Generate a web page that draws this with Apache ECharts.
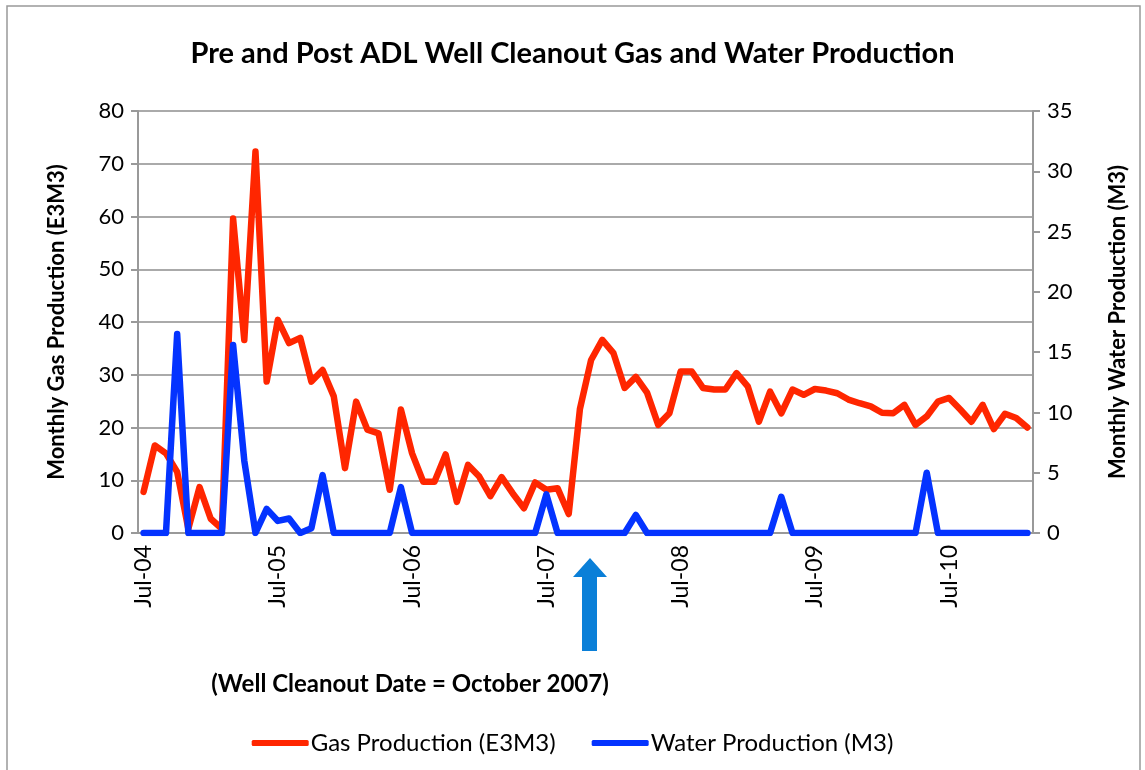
<!DOCTYPE html>
<html>
<head>
<meta charset="utf-8">
<script src="https://cdn.jsdelivr.net/npm/echarts@6/dist/echarts.min.js"></script>
<style>
  html, body { margin: 0; padding: 0; background: #fff; }
  #main { width: 1145px; height: 770px; }
</style>
</head>
<body>
<div id="main"></div>
<script>
// monthly categories, Jul-04 .. Feb-11
var monthNames = ['Jan','Feb','Mar','Apr','May','Jun','Jul','Aug','Sep','Oct','Nov','Dec'];
var months = [];
for (var k = 0; k < 80; k++) {
    var m = (6 + k) % 12, y = 4 + Math.floor((6 + k) / 12);
    months.push(monthNames[m] + '-' + (y < 10 ? '0' + y : '' + y));
}

// Gas Production (E3M3), left axis
var gas = [7.8,16.6,15.1,11.6,0.8,8.7,2.7,0.8,59.6,36.6,
           72.3,28.7,40.4,36.0,37.0,28.7,30.9,25.9,12.3,24.9,
           19.6,18.9,8.2,23.4,15.1,9.7,9.7,14.9,5.9,12.9,
           10.7,7.0,10.6,7.5,4.7,9.6,8.2,8.5,3.6,23.5,
           32.8,36.6,34.1,27.5,29.6,26.6,20.5,22.7,30.6,30.6,
           27.5,27.2,27.2,30.3,27.8,21.1,26.8,22.7,27.2,26.2,
           27.3,27.0,26.5,25.3,24.6,24.0,22.8,22.7,24.3,20.5,
           22.1,24.9,25.6,23.4,21.1,24.3,19.7,22.6,21.8,20.0];

// Water Production (M3), right axis
var water = [0,0,0,16.5,0,0,0,0,15.6,6.0,
             0,2.0,1.0,1.2,0,0.4,4.8,0,0,0,
             0,0,0,3.8,0,0,0,0,0,0,
             0,0,0,0,0,0,3.2,0,0,0,
             0,0,0,0,1.5,0,0,0,0,0,
             0,0,0,0,0,0,0,3.0,0,0,
             0,0,0,0,0,0,0,0,0,0,
             5.0,0,0,0,0,0,0,0,0,0];

var font = 'Lato, "Open Sans", sans-serif';

var myChart = echarts.init(document.getElementById('main'));
var option = {
    animation: false,
    backgroundColor: '#fff',
    title: {
        text: 'Pre and Post ADL Well Cleanout Gas and Water Production',
        left: 'center',
        top: 34,
        textStyle: { fontFamily: font, fontSize: 29, fontWeight: 'bold', color: '#000' }
    },
    legend: {
        bottom: 10,
        left: 'center',
        itemWidth: 57,
        itemHeight: 6,
        itemGap: 36,
        icon: 'roundRect',
        textStyle: { fontFamily: font, fontSize: 24, color: '#000', padding: [0, 0, 0, -3] },
        data: ['Gas Production (E3M3)', 'Water Production (M3)']
    },
    grid: {
        left: 138,
        right: 112,
        top: 111,
        bottom: 237,
        show: true,
        borderColor: '#222',
        borderWidth: 1
    },
    xAxis: {
        type: 'category',
        data: months,
        boundaryGap: true,
        axisLine: { lineStyle: { color: '#999', width: 2 } },
        axisTick: { interval: 11, length: 6, lineStyle: { color: '#999', width: 3 } },
        axisLabel: {
            interval: 11,
            rotate: 90,
            margin: 12,
            fontFamily: font,
            fontSize: 23,
            color: '#000'
        }
    },
    yAxis: [
        {
            type: 'value',
            min: 0, max: 80, interval: 10,
            name: 'Monthly Gas Production (E3M3)',
            nameLocation: 'middle',
            nameRotate: 90,
            nameGap: 70,
            nameTextStyle: { fontFamily: font, fontSize: 22, fontWeight: 'bold', color: '#000' },
            axisLine: { show: true, lineStyle: { color: '#999', width: 2 } },
            axisTick: { show: true, length: 7, lineStyle: { color: '#999', width: 2 } },
            axisLabel: { fontFamily: font, fontSize: 22, color: '#000', margin: 14 },
            splitLine: { lineStyle: { color: '#aaa', width: 2 } }
        },
        {
            type: 'value',
            min: 0, max: 35, interval: 5,
            name: 'Monthly Water Production (M3)',
            nameLocation: 'middle',
            nameRotate: 90,
            nameGap: 74,
            nameTextStyle: { fontFamily: font, fontSize: 22, fontWeight: 'bold', color: '#000' },
            axisLine: { show: true, lineStyle: { color: '#999', width: 2 } },
            axisTick: { show: true, length: 7, lineStyle: { color: '#999', width: 2 } },
            axisLabel: { fontFamily: font, fontSize: 22, color: '#000', margin: 14 },
            splitLine: { show: false }
        }
    ],
    series: [
        {
            name: 'Gas Production (E3M3)',
            type: 'line',
            yAxisIndex: 0,
            data: gas,
            showSymbol: false,
            symbol: 'none',
            color: '#ff2600',
            lineStyle: { color: '#ff2600', width: 6.5, join: 'round', cap: 'round' },
            z: 2
        },
        {
            name: 'Water Production (M3)',
            type: 'line',
            yAxisIndex: 1,
            data: water,
            showSymbol: false,
            symbol: 'none',
            color: '#0433ff',
            lineStyle: { color: '#0433ff', width: 6.5, join: 'round', cap: 'round' },
            z: 3
        }
    ],
    graphic: [
        {
            type: 'rect',
            shape: { x: 7, y: 6, width: 1133, height: 780 },
            style: { fill: 'none', stroke: '#999', lineWidth: 1.5 },
            silent: true
        },
        {
            type: 'polygon',
            shape: { points: [[590, 558], [607, 577], [597, 577], [597, 651], [582, 651], [582, 577], [573, 577]] },
            style: { fill: '#0a7fd8' }
        },
        {
            type: 'text',
            x: 410,
            y: 684,
            style: {
                text: '(Well Cleanout Date = October 2007)',
                fontFamily: font,
                fontSize: 24,
                fontWeight: 'bold',
                fill: '#000',
                align: 'center',
                verticalAlign: 'middle'
            }
        }
    ]
};
myChart.setOption(option);
window.onresize = myChart.resize;
</script>
</body>
</html>
